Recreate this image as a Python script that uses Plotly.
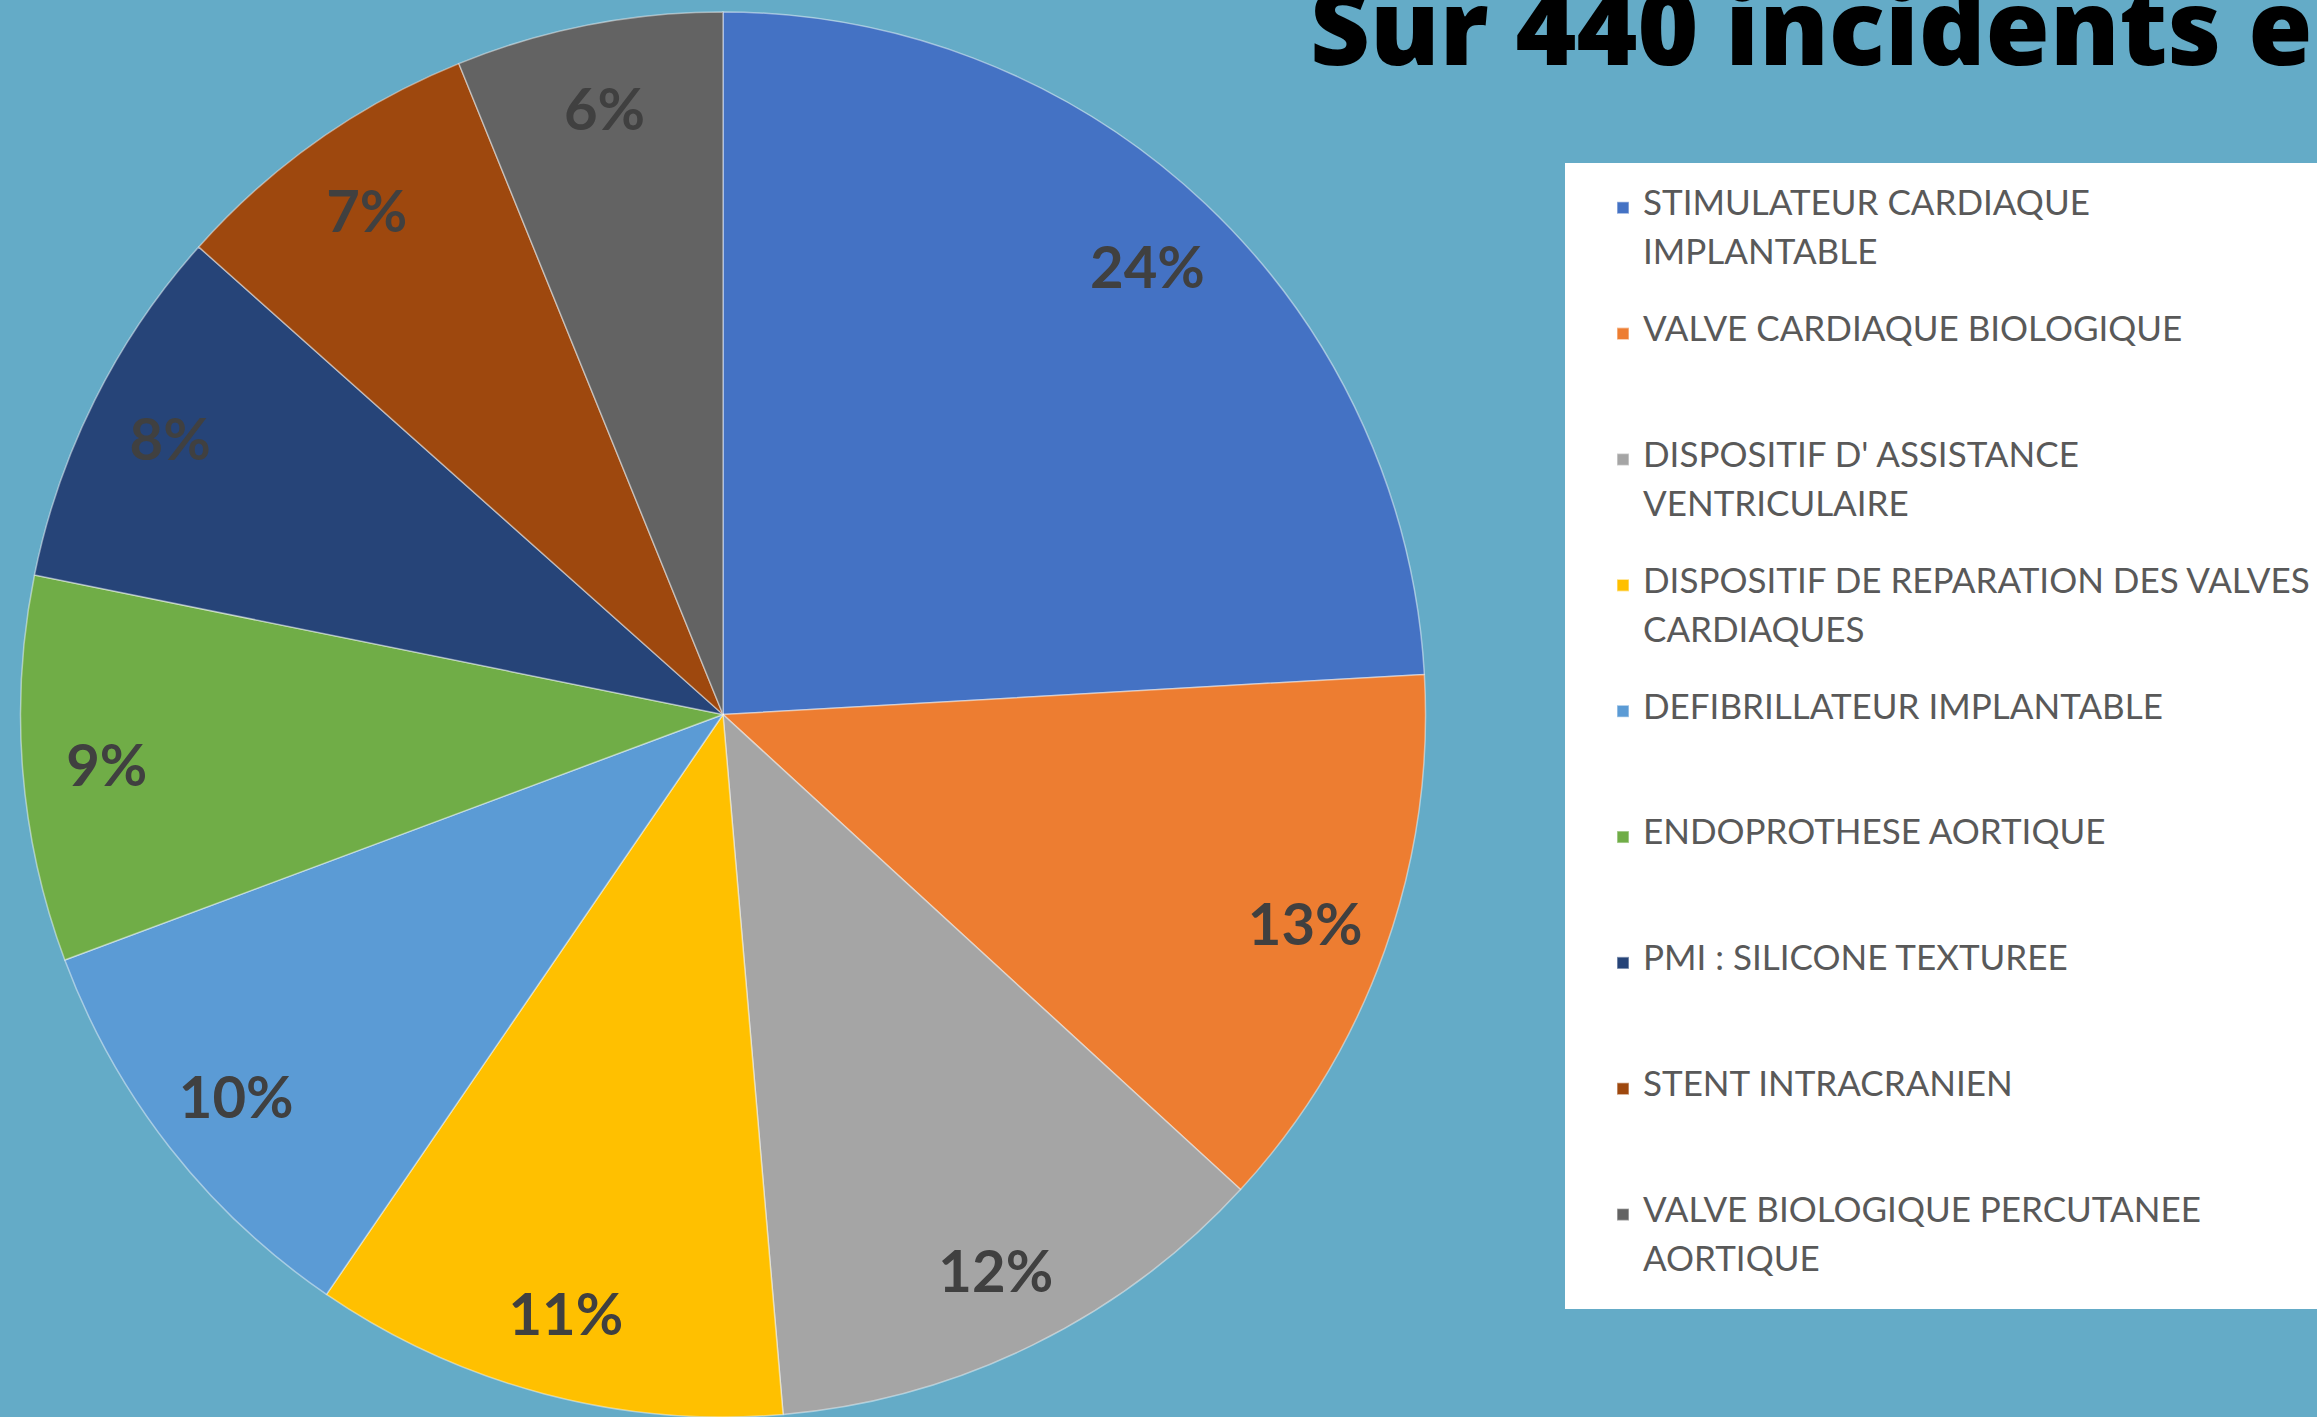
import plotly.graph_objects as go

W, H = 2317, 1417

categories = [
    "STIMULATEUR CARDIAQUE<br>IMPLANTABLE",
    "VALVE CARDIAQUE BIOLOGIQUE",
    "DISPOSITIF D' ASSISTANCE<br>VENTRICULAIRE",
    "DISPOSITIF DE REPARATION DES VALVES<br>CARDIAQUES",
    "DEFIBRILLATEUR IMPLANTABLE",
    "ENDOPROTHESE AORTIQUE",
    "PMI : SILICONE TEXTUREE",
    "STENT INTRACRANIEN",
    "VALVE BIOLOGIQUE PERCUTANEE<br>AORTIQUE",
]
counts = [106, 56, 52, 48, 43, 39, 37, 32, 27]
colors = ["#4472C4", "#ED7D31", "#A5A5A5", "#FFC000", "#5B9BD5",
          "#70AD47", "#264478", "#9E480E", "#636363"]
title_text = "Sur 440 incidents en"

bg = "#64ABC7"


def legend_label(c, n_lines=5):
    parts = ['<span style="font-size:35px">%s</span>' % p for p in c.split("<br>")]
    txt = "<br> <br>".join(parts)
    used = 2 * len(parts) - 1
    txt += "<br> " * (n_lines - used)
    return txt


legend_labels = [legend_label(c) for c in categories]
domain = dict(x=[20 / W, 1426 / W], y=[0.0, 1405 / H])

fig = go.Figure()
# slices
fig.add_trace(go.Pie(
    labels=legend_labels,
    values=counts,
    sort=False,
    direction="clockwise",
    rotation=0,
    marker=dict(colors=colors, line=dict(color="rgba(255,255,255,0.45)", width=1.5)),
    textinfo="none",
    domain=domain,
    hoverinfo="percent",
))
# percentage labels, placed in an outer ring like the original
fig.add_trace(go.Pie(
    labels=legend_labels,
    values=counts,
    sort=False,
    direction="clockwise",
    rotation=0,
    hole=0.76,
    marker=dict(colors=["rgba(0,0,0,0)"] * len(counts), line=dict(width=0)),
    texttemplate="%{percent:.0%}",
    textposition="inside",
    insidetextorientation="horizontal",
    textfont=dict(family="Lato", size=58, color="#404040", weight="bold"),
    domain=domain,
    showlegend=False,
    hoverinfo="skip",
))

# white legend panel
fig.add_shape(type="rect", xref="paper", yref="paper",
              x0=1565 / W, x1=1.01, y0=1 - 1309 / H, y1=1 - 163 / H,
              fillcolor="white", line=dict(width=0), layer="below")

fig.add_annotation(
    text=title_text, xref="paper", yref="paper",
    x=1308 / W, y=1 - 66 / H, xanchor="left", yanchor="bottom",
    yshift=-31, showarrow=False,
    font=dict(family="Open Sans", size=104, color="#000000", weight=800),
)

fig.update_layout(
    width=W, height=H,
    margin=dict(l=0, r=0, t=0, b=0, autoexpand=False),
    paper_bgcolor=bg, plot_bgcolor=bg,
    showlegend=True,
    legend=dict(
        x=1603 / W, xanchor="left", y=1 - 189 / H, yanchor="top",
        bgcolor="rgba(0,0,0,0)", borderwidth=0,
        font=dict(family="Lato", size=18.9, color="#595959"),
        valign="top", traceorder="normal",
    ),
)

fig.write_html("out.html", config={"displayModeBar": False},
               post_script="document.body.style.margin='0';document.body.style.overflow='hidden';")
